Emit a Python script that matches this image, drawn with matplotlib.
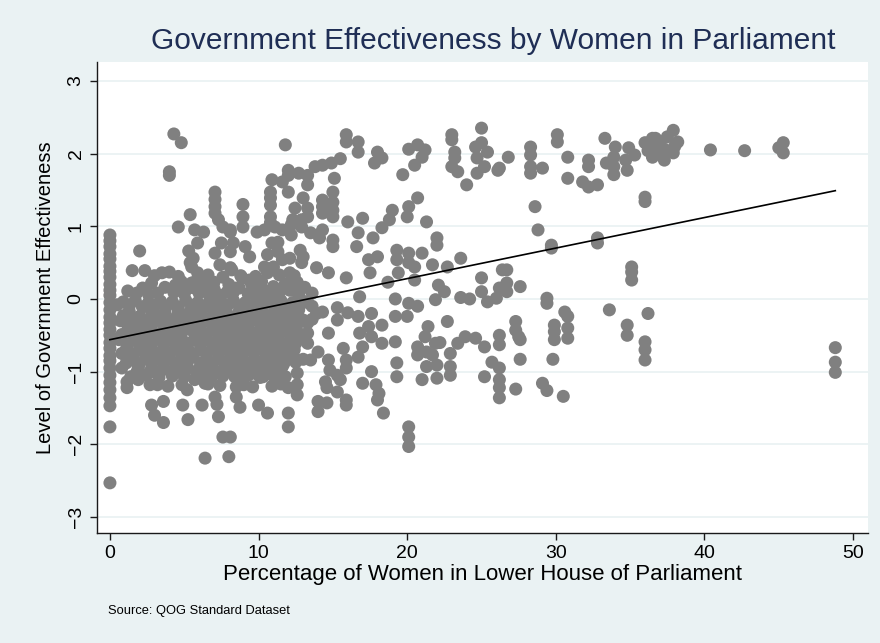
import numpy as np
import matplotlib
matplotlib.use('Agg')
import matplotlib.pyplot as plt

plt.rcParams['font.family'] = ['Liberation Sans', 'DejaVu Sans']

BG = '#EAF2F3'
DOT = '#808080'
TITLE_COLOR = '#1F2E55'

# countries with no women in the lower house (x = 0)
zero_share_y = [0.88, 0.80, 0.72, 0.62, 0.55, 0.45, 0.38, 0.30, 0.20, 0.12, 0.05,
                -0.05, -0.15, -0.25, -0.33, -0.42, -0.50, -0.60, -0.68, -0.78, -0.85,
                -0.95, -1.05, -1.15, -1.25, -1.36, -1.47, -1.76, -2.53]

upper_left = [(4.3, 2.27), (4.8, 2.15), (4.0, 1.75), (4.0, 1.70), (7.07, 1.47), (7.07, 1.37),
              (7.07, 1.27), (7.07, 1.18), (7.3, 1.09), (7.6, 0.99), (8.1, 0.92), (5.4, 1.16),
              (4.6, 0.99), (5.7, 0.95), (6.3, 0.92), (5.9, 0.77), (7.5, 0.77), (2.0, 0.66),
              (5.3, 0.66), (7.07, 0.63), (5.6, 0.56), (7.4, 0.47), (1.5, 0.39), (2.35, 0.39),
              (3.5, 0.36), (4.0, 0.37), (5.5, 0.44), (5.9, 0.36), (7.6, 0.30), (8.2, 0.40),
              (1.2, 0.11), (3.2, 0.08), (4.4, 0.19), (5.5, 0.22), (5.7, 0.15), (6.7, 0.05),
              (7.9, 0.10), (2.2, -0.11), (0.5, -0.08), (5.4, 0.50), (5.9, 0.28)]

upper_mid = [(11.8, 2.12), (15.9, 2.26), (15.9, 2.16), (16.7, 2.16), (16.7, 2.02),
             (15.5, 1.93), (14.9, 1.87), (14.3, 1.84), (13.8, 1.82),
             (12.0, 1.77), (12.7, 1.73), (13.3, 1.70), (12.0, 1.70), (11.6, 1.61), (10.9, 1.64),
             (13.3, 1.57), (15.1, 1.66), (12.0, 1.47), (10.8, 1.47), (10.8, 1.39), (15.0, 1.47),
             (13.0, 1.39), (14.3, 1.36), (15.0, 1.33), (8.95, 1.30), (10.8, 1.29), (12.45, 1.25),
             (13.3, 1.25), (14.3, 1.27), (15.0, 1.22), (13.3, 1.13), (14.3, 1.18), (15.0, 1.13),
             (8.95, 1.13), (10.8, 1.13), (12.3, 1.09), (12.9, 1.09), (10.8, 1.05), (16.0, 1.06),
             (17.0, 1.11), (8.1, 0.95), (8.95, 0.99), (9.9, 0.92), (10.4, 0.95), (11.1, 0.99),
             (11.6, 0.95), (12.2, 1.02), (12.2, 0.88), (12.9, 0.99), (13.5, 0.91), (14.3, 0.95),
             (14.1, 0.84), (15.0, 0.81), (15.0, 0.72), (16.7, 0.91), (16.6, 0.72),
             (8.3, 0.77), (9.1, 0.72), (9.4, 0.58), (8.1, 0.65), (10.9, 0.77), (11.3, 0.78),
             (10.6, 0.61), (11.3, 0.65), (11.6, 0.54), (12.1, 0.56), (12.8, 0.67), (13.0, 0.58),
             (12.9, 0.50), (11.0, 0.44), (10.4, 0.44), (10.6, 0.36), (12.1, 0.36), (13.9, 0.43),
             (14.7, 0.36), (15.9, 0.29), (8.1, 0.43), (8.9, 0.29), (9.4, 0.26), (8.5, 0.15),
             (9.9, 0.12), (11.0, 0.17), (11.4, 0.10), (12.1, 0.12), (10.9, 0.05), (13.6, 0.08),
             (16.8, 0.03)]

core_blob = [
    (2.8, 0.22), (4.8, 0.24), (6.3, 0.21), (7.0, 0.23), (8.0, 0.20), (9.5, 0.22), (10.2, 0.24), (11.8, 0.21), (12.6, 0.23),
    (1.8, 0.08), (2.6, 0.06), (4.3, 0.09), (5.0, 0.07), (6.0, 0.08), (7.3, 0.06), (8.3, 0.09), (9.3, 0.07), (10.4, 0.08), (12.7, 0.06),
    (0.9, -0.04), (1.7, -0.02), (2.6, -0.05), (3.4, -0.03), (4.2, -0.04), (5.1, -0.02), (5.9, -0.05), (6.7, -0.03),
    (7.5, -0.04), (8.3, -0.02), (9.1, -0.05), (9.9, -0.03), (10.7, -0.04), (11.5, -0.02), (12.3, -0.05), (13.0, -0.03),
    (1.3, -0.17), (2.9, -0.15), (3.7, -0.18), (4.6, -0.16), (5.4, -0.17), (6.2, -0.15), (7.0, -0.18), (7.8, -0.16),
    (8.7, -0.17), (9.5, -0.15), (10.3, -0.18), (11.1, -0.16), (11.9, -0.17), (12.7, -0.15), (14.3, -0.18),
    (0.7, -0.30), (1.6, -0.28), (2.4, -0.31), (3.2, -0.29), (4.1, -0.30), (4.9, -0.28), (5.7, -0.31), (6.5, -0.29),
    (7.3, -0.30), (8.1, -0.28), (8.9, -0.31), (9.7, -0.29), (10.6, -0.30), (11.4, -0.28), (12.2, -0.31), (13.0, -0.29),
    (1.2, -0.43), (2.0, -0.41), (2.8, -0.44), (3.6, -0.42), (4.4, -0.43), (5.3, -0.41), (6.1, -0.44), (6.9, -0.42),
    (7.7, -0.43), (8.5, -0.41), (9.3, -0.44), (10.1, -0.42), (10.9, -0.43), (11.7, -0.41), (12.5, -0.44),
    (0.6, -0.56), (1.6, -0.54), (2.4, -0.57), (3.2, -0.55), (4.0, -0.56), (4.8, -0.54), (5.7, -0.57), (6.5, -0.55),
    (7.3, -0.56), (8.1, -0.54), (8.9, -0.57), (9.7, -0.55), (10.5, -0.56), (11.3, -0.54), (12.1, -0.57), (12.9, -0.55),
    (1.1, -0.69), (2.0, -0.67), (2.8, -0.70), (3.6, -0.68), (4.4, -0.69), (5.2, -0.67), (6.1, -0.70), (6.9, -0.68),
    (7.7, -0.69), (8.5, -0.67), (9.3, -0.70), (10.1, -0.68), (10.9, -0.69), (11.7, -0.67), (12.4, -0.70),
    (1.5, -0.82), (2.4, -0.80), (3.2, -0.83), (4.0, -0.81), (4.8, -0.82), (5.6, -0.80), (6.5, -0.83), (7.3, -0.81),
    (8.1, -0.82), (8.9, -0.80), (9.7, -0.83), (10.5, -0.81), (11.3, -0.82), (12.0, -0.80), (13.0, -0.83),
    (0.8, -0.95), (1.9, -0.93), (2.8, -0.96), (3.6, -0.94), (4.4, -0.95), (5.2, -0.93), (6.0, -0.96), (6.9, -0.94),
    (7.7, -0.95), (8.5, -0.93), (9.3, -0.96), (10.1, -0.94), (10.9, -0.95), (11.6, -0.93),
    (1.4, -1.07), (2.4, -1.05), (3.3, -1.08), (4.2, -1.06), (5.0, -1.07), (5.9, -1.05), (6.8, -1.08), (7.6, -1.06),
    (8.4, -1.07), (9.3, -1.05), (10.1, -1.08), (11.0, -1.06), (11.8, -1.07),
    (2.7, -1.18), (3.9, -1.20), (6.6, -1.17), (7.4, -1.19), (9.0, -1.18), (10.9, -1.20), (11.5, -1.17),
]

core_fill = [
    (3.0, 0.32), (4.6, 0.31), (6.6, 0.33), (8.8, 0.32), (9.8, 0.31), (11.4, 0.33), (12.4, 0.32),
    (2.2, 0.15), (3.7, 0.16), (4.6, 0.14), (5.3, 0.15), (6.6, 0.16), (7.0, 0.14), (8.7, 0.15), (9.6, 0.16),
    (10.2, 0.14), (12.4, 0.15), (13.1, 0.16),
    (1.3, -0.10), (2.2, -0.11), (3.0, -0.09), (3.8, -0.10), (4.6, -0.11), (5.5, -0.09), (6.3, -0.10), (7.1, -0.11),
    (7.9, -0.09), (8.7, -0.10), (9.5, -0.11), (10.3, -0.09), (11.1, -0.10), (11.9, -0.11), (12.7, -0.09), (13.6, -0.10),
    (0.9, -0.23), (2.0, -0.24), (2.8, -0.22), (3.6, -0.23), (4.5, -0.24), (5.3, -0.22), (6.1, -0.23), (6.9, -0.24),
    (7.7, -0.22), (8.5, -0.23), (9.3, -0.24), (10.1, -0.22), (11.0, -0.23), (11.8, -0.24), (12.6, -0.22),
    (1.2, -0.36), (2.0, -0.37), (2.8, -0.35), (3.6, -0.36), (4.5, -0.37), (5.3, -0.35), (6.1, -0.36), (6.9, -0.37),
    (7.7, -0.35), (8.5, -0.36), (9.3, -0.37), (10.2, -0.35), (11.0, -0.36), (11.8, -0.37), (12.6, -0.35),
    (0.8, -0.49), (1.6, -0.50), (2.4, -0.48), (3.2, -0.49), (4.0, -0.50), (4.8, -0.48), (5.7, -0.49), (6.5, -0.50),
    (7.3, -0.48), (8.1, -0.49), (8.9, -0.50), (9.7, -0.48), (10.5, -0.49), (11.3, -0.50), (12.1, -0.48), (12.9, -0.49),
    (1.2, -0.62), (2.0, -0.63), (2.8, -0.61), (3.6, -0.62), (4.4, -0.63), (5.2, -0.61), (6.1, -0.62), (6.9, -0.63),
    (7.7, -0.61), (8.5, -0.62), (9.3, -0.63), (10.1, -0.61), (10.9, -0.62), (11.7, -0.63), (12.5, -0.61),
    (0.8, -0.75), (1.6, -0.76), (2.4, -0.74), (3.2, -0.75), (4.0, -0.76), (4.8, -0.74), (5.6, -0.75), (6.5, -0.76),
    (7.3, -0.74), (8.1, -0.75), (8.9, -0.76), (9.7, -0.74), (10.5, -0.75), (11.3, -0.76), (12.1, -0.74),
    (1.1, -0.88), (2.0, -0.89), (2.8, -0.87), (3.6, -0.88), (4.4, -0.89), (5.2, -0.87), (6.1, -0.88), (6.9, -0.89),
    (7.7, -0.87), (8.5, -0.88), (9.3, -0.89), (10.1, -0.87), (10.9, -0.88), (11.7, -0.89), (12.5, -0.87),
    (1.8, -1.01), (2.6, -1.02), (3.4, -1.00), (4.2, -1.01), (5.0, -1.02), (5.8, -1.00), (6.5, -1.01), (7.3, -1.02),
    (8.1, -1.00), (8.9, -1.01), (9.7, -1.02), (10.5, -1.00), (11.3, -1.01),
]

lower_left = [(1.15, -1.14), (1.15, -1.22), (1.9, -1.11), (3.2, -1.18), (2.8, -1.46), (3.6, -1.41),
              (3.0, -1.60), (3.6, -1.70), (4.9, -1.46), (5.25, -1.66), (6.2, -1.46), (6.4, -2.19),
              (7.3, -1.62), (7.6, -1.90), (8.1, -1.90), (8.0, -2.17), (4.85, -1.18), (5.2, -1.25),
              (5.7, -1.11), (6.4, -1.16), (7.07, -1.35), (7.2, -1.45), (1.35, -0.36)]

lower_mid = [(15.3, -0.12), (15.3, -0.29), (16.0, -0.19), (16.7, -0.24), (16.8, -0.47),
             (17.0, -0.66), (16.7, -0.80), (14.7, -0.47), (15.7, -0.68), (15.9, -0.84),
             (15.9, -0.95), (14.7, -0.84), (14.8, -0.98), (15.3, -1.05), (15.5, -1.11),
             (14.5, -1.14), (14.6, -1.22), (15.3, -1.28), (15.9, -1.39), (15.9, -1.46),
             (14.0, -1.41), (14.6, -1.43), (14.0, -1.55), (17.0, -1.16), (13.3, -0.33),
             (13.3, -0.47), (13.3, -0.61), (14.0, -0.73), (13.5, -0.84), (12.6, -0.84),
             (12.6, -1.02), (12.6, -1.18), (12.6, -1.32), (12.0, -1.22), (12.0, -1.57),
             (12.0, -1.76), (10.6, -1.57), (10.0, -1.46), (8.75, -1.49), (8.5, -1.35),
             (8.5, -1.21), (9.6, -1.21), (8.75, -1.11), (10.3, -1.07), (13.3, -0.05),
             (13.9, -0.20), (13.6, -0.28)]

right_upper = [(18.0, 2.02), (18.3, 1.94), (17.8, 1.87), (20.1, 2.06), (20.7, 2.12), (21.2, 2.05),
               (21.0, 1.95), (20.5, 1.84), (19.7, 1.71), (23.0, 2.26), (23.0, 2.19), (23.2, 2.02),
               (23.2, 1.94), (23.0, 1.82), (23.4, 1.75), (24.0, 1.57), (25.0, 2.35), (25.0, 2.15),
               (24.6, 2.09), (25.4, 2.02), (24.7, 1.94), (25.2, 1.82), (24.7, 1.73), (26.1, 1.77),
               (20.7, 1.39), (20.1, 1.27), (20.0, 1.13), (19.0, 1.22), (18.8, 1.09), (18.3, 0.98),
               (21.3, 1.06), (22.0, 0.84), (22.0, 0.74), (17.7, 0.84), (19.3, 0.67), (20.1, 0.63),
               (21.0, 0.63), (18.0, 0.58), (19.3, 0.54), (20.1, 0.50), (20.5, 0.44), (17.4, 0.54),
               (17.5, 0.36), (21.7, 0.47), (22.7, 0.44), (23.6, 0.56), (19.4, 0.36), (20.5, 0.26),
               (18.7, 0.23), (22.1, 0.19), (22.5, 0.10), (25.0, 0.29), (25.0, 0.10), (26.4, 0.40),
               (19.2, 0.00), (20.1, -0.06), (20.7, -0.10), (21.9, -0.01), (23.6, 0.02), (24.2, 0.00),
               (25.4, -0.04), (26.0, 0.01), (26.8, 1.95), (26.2, 1.80), (28.3, 2.09), (28.3, 1.98),
               (28.3, 1.82), (28.3, 1.73), (29.1, 1.80), (30.1, 2.26), (30.1, 2.16), (30.8, 1.95),
               (30.8, 1.66), (31.8, 1.61), (32.2, 1.54), (32.8, 1.57), (32.2, 1.91), (32.2, 1.82),
               (33.3, 2.21), (34.0, 2.09), (33.9, 1.95), (33.4, 1.87), (33.9, 1.82), (33.9, 1.71),
               (34.9, 2.08), (35.3, 1.98), (34.7, 1.91), (34.8, 1.77), (36.0, 2.15), (36.5, 2.21),
               (36.5, 2.08), (36.5, 2.01), (36.0, 1.40), (36.0, 1.34), (28.6, 1.27), (28.8, 0.95),
               (29.7, 0.74), (29.7, 0.70), (32.8, 0.84), (32.8, 0.77), (26.7, 0.40), (26.7, 0.22),
               (26.2, 0.15), (27.6, 0.17), (26.7, 0.10), (35.1, 0.44), (35.1, 0.37), (35.1, 0.26),
               (29.4, 0.01), (29.4, -0.06), (37.9, 2.32), (37.5, 2.23), (38.2, 2.16), (36.7, 2.21),
               (37.0, 2.15), (36.9, 2.01), (37.9, 2.01), (37.3, 1.91), (36.5, 1.95), (36.2, 2.04),
               (37.3, 2.06), (38.0, 2.10), (40.4, 2.05), (42.7, 2.04), (45.0, 2.08), (45.3, 2.15),
               (45.3, 2.01)]

right_lower = [(17.6, -0.20), (17.4, -0.38), (18.3, -0.36), (17.6, -0.52), (18.3, -0.61),
               (19.2, -0.24), (20.0, -0.24), (19.2, -0.59), (19.3, -0.88), (19.3, -1.07),
               (17.6, -1.00), (17.9, -1.18), (18.0, -1.39), (18.4, -1.57), (18.1, -1.30),
               (20.1, -1.76), (20.1, -1.90), (20.1, -2.03), (21.4, -0.38), (21.2, -0.52),
               (20.7, -0.66), (20.7, -0.77), (21.3, -0.73), (21.9, -0.61), (21.7, -0.77),
               (21.3, -0.93), (22.0, -0.91), (22.0, -1.09), (21.0, -1.11), (22.9, -0.75),
               (22.9, -0.93), (22.9, -1.05), (22.7, -0.31), (22.2, -0.60), (23.4, -0.61),
               (23.9, -0.52), (24.6, -0.54), (25.2, -0.66), (25.7, -0.87), (25.2, -1.07),
               (30.6, -0.18), (30.8, -0.24), (33.6, -0.15), (36.2, -0.20),
               (27.3, -0.31), (27.3, -0.43), (27.5, -0.52), (27.6, -0.56), (26.2, -0.50),
               (26.2, -0.63), (29.9, -0.36), (29.9, -0.45), (29.9, -0.56), (30.8, -0.40),
               (30.8, -0.54), (34.8, -0.36), (34.8, -0.50), (36.0, -0.59), (36.0, -0.70),
               (36.0, -0.84), (27.6, -0.83), (29.8, -0.83), (26.2, -0.95), (26.2, -1.11),
               (26.2, -1.22), (26.2, -1.36), (27.3, -1.24), (29.1, -1.16), (29.4, -1.26),
               (30.5, -1.34), (48.8, -0.67), (48.8, -0.87), (48.8, -1.01)]

# linear fit as drawn in the reference
fit_intercept = -0.56
fit_slope = 0.042

groups = [upper_left, upper_mid, core_blob, core_fill, lower_left, lower_mid, right_upper, right_lower]
pts = [(0.0, y) for y in zero_share_y] + [p for g in groups for p in g]
women = np.array([p[0] for p in pts])
goveff = np.array([p[1] for p in pts])

fig = plt.figure(figsize=(8.8, 6.43), dpi=100, facecolor=BG)
ax = fig.add_axes([97 / 880, 1 - 533 / 643, 771 / 880, 471 / 643])
ax.set_facecolor('white')

ax.scatter(women, goveff, s=88, color=DOT, edgecolors='none', zorder=3)
xfit = np.array([women.min(), women.max()])
ax.plot(xfit, fit_intercept + fit_slope * xfit, color='black', lw=1.2, zorder=4)

ax.set_xlim(-0.87, 51.0)
ax.set_ylim(-3.22, 3.26)
ax.set_xticks([0, 10, 20, 30, 40, 50])
ax.set_yticks([-3, -2, -1, 0, 1, 2, 3])
ax.grid(axis='y', color=BG, lw=1.3, zorder=0)
ax.set_axisbelow(True)

for side in ['top', 'right']:
    ax.spines[side].set_visible(False)
for side in ['left', 'bottom']:
    ax.spines[side].set_color('#1a1a1a')
    ax.spines[side].set_linewidth(1.0)

ax.tick_params(direction='out', length=5, width=1, color='#1a1a1a', labelsize=14, pad=4)
plt.setp(ax.get_yticklabels(), rotation=90, va='center')

ax.set_xlabel('Percentage of Women in Lower House of Parliament', fontsize=16, labelpad=1)
ax.set_ylabel('Level of Government Effectiveness', fontsize=14.5, labelpad=9)

fig.text(0.561, 0.936, 'Government Effectiveness by Women in Parliament',
         ha='center', va='center', fontsize=21.5, color=TITLE_COLOR)
fig.text(108 / 880, 1 - 611 / 643, 'Source: QOG Standard Dataset',
         ha='left', va='center', fontsize=9.3)

fig.savefig('out.png', dpi=100, facecolor=BG)
